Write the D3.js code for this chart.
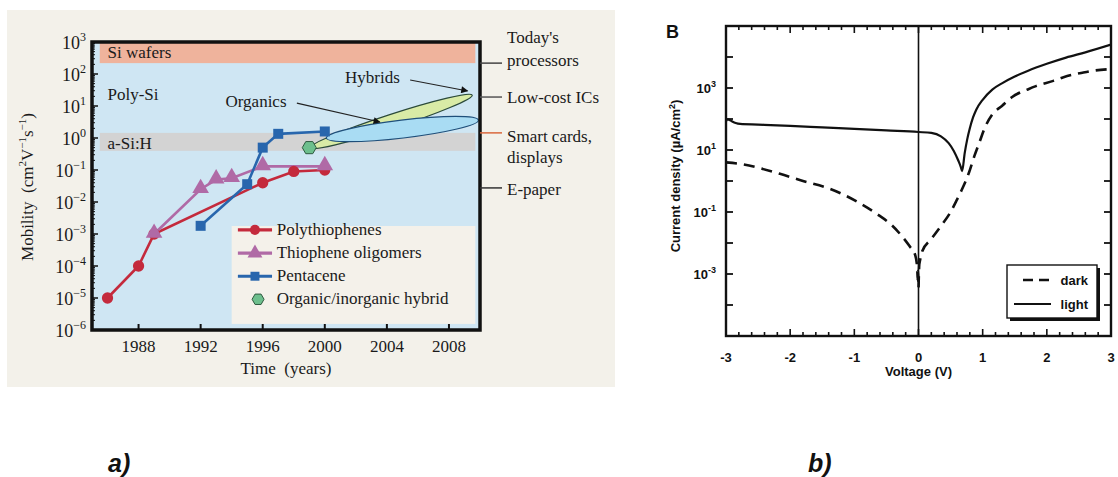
<!DOCTYPE html>
<html><head><meta charset="utf-8">
<script src="https://cdn.jsdelivr.net/npm/d3@7"></script>
<style>body{margin:0;background:#fff} svg{display:block}</style>
</head><body>
<svg id="c" width="1118" height="477"></svg>
<script>
// ---------------- Panel a data ----------------
const yearTicks = [1988, 1992, 1996, 2000, 2004, 2008];
const mobilityExps = [-6, -5, -4, -3, -2, -1, 0, 1, 2, 3];
const polyYears = [1986, 1988, 1989, 1996, 1998, 2000];
const polyMob   = [1e-5, 1e-4, 1e-3, 0.04, 0.09, 0.1];
const oligoYears = [1989, 1992, 1993, 1994, 1996, 2000];
const oligoMob   = [1e-3, 0.025, 0.05, 0.055, 0.13, 0.13];
const pentYears = [1992, 1995, 1996, 1997, 2000];
const pentMob   = [1.8e-3, 0.036, 0.5, 1.35, 1.6];
const hybridYears = [1999];
const hybridMob   = [0.5];
const legendA = ["Polythiophenes", "Thiophene oligomers", "Pentacene", "Organic/inorganic hybrid"];
const appLabels = [["Today's", "processors"], ["Low-cost ICs"], ["Smart cards,", "displays"], ["E-paper"]];
const appLevels = [Math.pow(10, 2.34), Math.pow(10, 1.28), Math.pow(10, 0.16), Math.pow(10, -1.56)];
const bandLabels = ["Si wafers", "Poly-Si", "a-Si:H"];
// ---------------- Panel b data ----------------
const voltTicks = [-3, -2, -1, 0, 1, 2, 3];
const jExps = [-5, -4, -3, -2, -1, 0, 1, 2, 3, 4, 5];
const jLabelExps = [3, 1, -1, -3];
const lightV = [-3, -2.97, -2.93, -2.85, -2.78, -2.5, -2, -1.5, -1, -0.5, 0, 0.2, 0.35, 0.47, 0.55, 0.62, 0.66, 0.68, 0.72, 0.76, 0.8, 0.85, 0.9, 1.0, 1.15, 1.3, 1.5, 1.7, 2.0, 2.3, 2.6, 3];
const lightLogJ = [1.93, 1.99, 1.95, 1.87, 1.84, 1.82, 1.78, 1.73, 1.68, 1.63, 1.58, 1.55, 1.44, 1.22, 0.97, 0.66, 0.45, 0.32, 0.9, 1.35, 1.7, 2.05, 2.3, 2.62, 2.95, 3.15, 3.37, 3.55, 3.78, 3.98, 4.15, 4.4];
const darkV = [-3, -2.78, -2.16, -1.8, -1.41, -0.92, -0.65, -0.42, -0.25, -0.14, -0.05, -0.02, -0.012, -0.006, 0, 0.006, 0.012, 0.02, 0.06, 0.2, 0.35, 0.5, 0.6, 0.68, 0.79, 0.87, 0.95, 1.03, 1.15, 1.3, 1.46, 1.72, 1.83, 2.1, 2.26, 2.57, 2.7, 3];
const darkLogJ = [0.6, 0.55, 0.23, 0.0, -0.23, -0.71, -1.06, -1.42, -1.8, -2.1, -2.4, -2.8, -3.2, -2.9, -3.45, -3.0, -2.7, -2.6, -2.26, -1.87, -1.45, -1.0, -0.6, -0.26, 0.29, 0.8, 1.25, 1.7, 2.15, 2.42, 2.71, 2.97, 3.06, 3.23, 3.35, 3.5, 3.55, 3.61];
const legendB = ["dark", "light"];

const svg = d3.select("#c");
const serif = "'Liberation Serif', 'Times New Roman', serif";
const sans = "'Liberation Sans', Arial, sans-serif";

// ================= Panel a =================
svg.append("rect").attr("x", 7).attr("y", 10).attr("width", 608).attr("height", 377).attr("fill", "#f3f1ea");
const xA = d3.scaleLinear().domain([1985, 2010]).range([92, 480]);
const yA = d3.scaleLog().domain([1e-6, 1e3]).range([330, 42]);
const gA = svg.append("g");
gA.append("rect").attr("x", xA(1985)).attr("y", yA(1e3)).attr("width", xA(2010) - xA(1985))
  .attr("height", yA(1e-6) - yA(1e3)).attr("fill", "#cfe6f3");
// bands
gA.append("rect").attr("x", xA(1985.5)).attr("y", yA(1e3)).attr("width", xA(2009.7) - xA(1985.5))
  .attr("height", yA(Math.pow(10, 2.34)) - yA(1e3)).attr("fill", "#efb39c");
gA.append("rect").attr("x", xA(1985.5)).attr("y", yA(Math.pow(10, 0.16))).attr("width", xA(2009.7) - xA(1985.5))
  .attr("height", yA(Math.pow(10, -0.4)) - yA(Math.pow(10, 0.16))).attr("fill", "#d3d3d3");
const bandPos = [[1986, Math.pow(10, 2.5)], [1986, Math.pow(10, 1.19)], [1986, Math.pow(10, -0.34)]];
bandLabels.forEach((t, i) => gA.append("text").attr("x", xA(bandPos[i][0])).attr("y", yA(bandPos[i][1]))
  .attr("font-family", serif).attr("font-size", 17).attr("fill", "#1a1a1a").text(t));

// legend box
gA.append("rect").attr("x", xA(1994.0)).attr("y", yA(Math.pow(10, -2.75))).attr("width", xA(2009.7) - xA(1994.0))
  .attr("height", yA(Math.pow(10, -5.81)) - yA(Math.pow(10, -2.75))).attr("fill", "#f4f1ea");

// ellipses (annotations in data coordinates)
function ell(y0, m0, y1, m1, half, fill, stroke) {
  const ax = xA(y0), ay = yA(m0), bx = xA(y1), by = yA(m1);
  const cx = (ax + bx) / 2, cy = (ay + by) / 2;
  const len = Math.hypot(bx - ax, by - ay) / 2;
  const ang = Math.atan2(by - ay, bx - ax) * 180 / Math.PI;
  gA.append("ellipse").attr("cx", 0).attr("cy", 0).attr("rx", len).attr("ry", half)
    .attr("transform", `translate(${cx},${cy}) rotate(${ang})`)
    .attr("fill", fill).attr("stroke", stroke).attr("stroke-width", 1.2);
}
ell(1999.05, Math.pow(10, -0.31), 2009.5, Math.pow(10, 1.34), 7, "#d9eba6", "#2b4a3a");
ell(2000.1, Math.pow(10, 0.0), 2009.9, Math.pow(10, 0.56), 9, "#a9dcf3", "#1f4f7a");

// arrows
const defs = svg.append("defs");
defs.append("marker").attr("id", "ah").attr("viewBox", "0 0 10 10").attr("refX", 9).attr("refY", 5)
  .attr("markerWidth", 11).attr("markerHeight", 7).attr("markerUnits", "userSpaceOnUse").attr("orient", "auto")
  .append("path").attr("d", "M0,0L10,5L0,10z").attr("fill", "#111");
function arrow(y0, m0, y1, m1) {
  gA.append("line").attr("x1", xA(y0)).attr("y1", yA(m0)).attr("x2", xA(y1)).attr("y2", yA(m1))
    .attr("stroke", "#222").attr("stroke-width", 1.1).attr("marker-end", "url(#ah)");
}
arrow(2005.5, Math.pow(10, 1.81), 2009.2, Math.pow(10, 1.47));
arrow(1998.2, Math.pow(10, 1.09), 2003.55, Math.pow(10, 0.5));
gA.append("text").attr("x", xA(2001.3)).attr("y", yA(Math.pow(10, 1.72))).attr("font-family", serif)
  .attr("font-size", 17).attr("fill", "#1a1a1a").text("Hybrids");
gA.append("text").attr("x", xA(1993.6)).attr("y", yA(Math.pow(10, 0.97))).attr("font-family", serif)
  .attr("font-size", 17).attr("fill", "#1a1a1a").text("Organics");

// series
const colors = ["#c42a3c", "#b06aa6", "#2866ad"];
const lineA = d3.line().x(d => xA(d[0])).y(d => yA(d[1]));
const sets = [d3.zip(polyYears, polyMob), d3.zip(oligoYears, oligoMob), d3.zip(pentYears, pentMob)];
sets.forEach((s, i) => gA.append("path").attr("d", lineA(s)).attr("fill", "none")
  .attr("stroke", colors[i]).attr("stroke-width", 2.6));
const sym = [d3.symbolCircle, d3.symbolTriangle, d3.symbolSquare];
const symSize = [100, 120, 100];
sets.forEach((s, i) => gA.selectAll(null).data(s).enter().append("path")
  .attr("d", d3.symbol().type(sym[i]).size(symSize[i]))
  .attr("transform", d => `translate(${xA(d[0])},${yA(d[1]) + (i === 1 ? -1 : 0)})`)
  .attr("fill", colors[i]));
const hexPath = r => d3.range(6).map(k => { const a = Math.PI / 3 * k; return [r * Math.cos(a), r * Math.sin(a)]; });
gA.selectAll(null).data(d3.zip(hybridYears, hybridMob)).enter().append("path")
  .attr("d", "M" + hexPath(7).join("L") + "Z")
  .attr("transform", d => `translate(${xA(d[0])},${yA(d[1])})`)
  .attr("fill", "#6dbf8d").attr("stroke", "#2f5a40").attr("stroke-width", 1);

// legend entries
const legY = [Math.pow(10, -2.87), Math.pow(10, -3.6), Math.pow(10, -4.32), Math.pow(10, -5.04)];
legendA.forEach((t, i) => {
  const yy = yA(legY[i]);
  if (i < 3) {
    gA.append("line").attr("x1", xA(1994.4)).attr("x2", xA(1996.6)).attr("y1", yy).attr("y2", yy)
      .attr("stroke", colors[i]).attr("stroke-width", 3.2);
    gA.append("path").attr("d", d3.symbol().type(sym[i]).size(symSize[i] * 0.8))
      .attr("transform", `translate(${xA(1995.5)},${yy})`).attr("fill", colors[i]);
  } else {
    gA.append("path").attr("d", "M" + hexPath(6).join("L") + "Z")
      .attr("transform", `translate(${xA(1995.7)},${yy})`).attr("fill", "#6dbf8d").attr("stroke", "#2f5a40");
  }
  gA.append("text").attr("x", xA(1996.9)).attr("y", yy + 5).attr("font-family", serif).attr("font-size", 17)
    .attr("fill", "#1a1a1a").text(t);
});

// frame and ticks
const [X0, X1] = xA.range(), [Yb, Yt] = yA.range();
mobilityExps.forEach(e => {
  const yy = yA(Math.pow(10, e));
  gA.append("line").attr("x1", X0).attr("x2", X0 + 6).attr("y1", yy).attr("y2", yy).attr("stroke", "#111").attr("stroke-width", 1.5);
  const t = gA.append("text").attr("x", 86).attr("y", yy + 7).attr("text-anchor", "end")
    .attr("font-family", serif).attr("font-size", 18).attr("fill", "#1a1a1a");
  t.append("tspan").text("10");
  t.append("tspan").attr("dy", -8).attr("font-size", 12).text(e < 0 ? "\u2212" + (-e) : String(e));
  if (e < 3) {
    d3.range(2, 10).forEach(k => {
      const ym = yA(k * Math.pow(10, e));
      gA.append("line").attr("x1", X0).attr("x2", X0 + 3).attr("y1", ym).attr("y2", ym).attr("stroke", "#111").attr("stroke-width", 1);
    });
  }
});
yearTicks.forEach(y => {
  gA.append("line").attr("x1", xA(y)).attr("x2", xA(y)).attr("y1", Yb).attr("y2", Yb - 6).attr("stroke", "#111").attr("stroke-width", 2);
  gA.append("text").attr("x", xA(y)).attr("y", 352).attr("text-anchor", "middle").attr("font-family", serif)
    .attr("font-size", 17).attr("fill", "#1a1a1a").text(y);
});
gA.append("rect").attr("x", X0).attr("y", Yt).attr("width", X1 - X0).attr("height", Yb - Yt)
  .attr("fill", "none").attr("stroke", "#111").attr("stroke-width", 3.5);
gA.append("text").attr("x", (X0 + X1) / 2).attr("y", 374).attr("text-anchor", "middle").attr("font-family", serif)
  .attr("font-size", 17).attr("fill", "#1a1a1a").attr("xml:space", "preserve").text("Time  (years)");
const yl = gA.append("text").attr("transform", `translate(33,187) rotate(-90)`).attr("text-anchor", "middle")
  .attr("font-family", serif).attr("font-size", 17).attr("fill", "#1a1a1a");
yl.append("tspan").text("Mobility\u00a0\u00a0(cm");
yl.append("tspan").attr("dy", -7).attr("font-size", 11).text("2");
yl.append("tspan").attr("dy", 7).text("V");
yl.append("tspan").attr("dy", -7).attr("font-size", 11).text("\u22121");
yl.append("tspan").attr("dy", 7).text("s");
yl.append("tspan").attr("dy", -7).attr("font-size", 11).text("\u22121");
yl.append("tspan").attr("dy", 7).text(")");

// application labels
const appColors = ["#444", "#555", "#d9683e", "#333"];
const appOffsets = [[-20, 3], [6], [9, 30], [7]];
appLabels.forEach((lines, i) => {
  const yy = yA(appLevels[i]);
  gA.append("line").attr("x1", X1).attr("x2", X1 + 22).attr("y1", yy).attr("y2", yy)
    .attr("stroke", appColors[i]).attr("stroke-width", 1.5);
  lines.forEach((t, j) => gA.append("text").attr("x", X1 + 27).attr("y", yy + appOffsets[i][j])
    .attr("font-family", serif).attr("font-size", 17).attr("fill", "#1a1a1a").text(t));
});

// ================= Panel b =================
const xB = d3.scaleLinear().domain([-3, 3]).range([726, 1111]);
const yB = d3.scaleLog().domain([1e-5, 1e5]).range([336, 26]);
const gB = svg.append("g");
const [BX0, BX1] = xB.range(), [BYb, BYt] = yB.range();
defs.append("clipPath").attr("id", "clipB").append("rect").attr("x", BX0).attr("y", BYt)
  .attr("width", BX1 - BX0).attr("height", BYb - BYt);
// zero line
gB.append("line").attr("x1", xB(0)).attr("x2", xB(0)).attr("y1", BYt).attr("y2", BYb).attr("stroke", "#111").attr("stroke-width", 1.6);
const lineB = d3.line().x(d => xB(d[0])).y(d => yB(Math.pow(10, d[1]))).curve(d3.curveMonotoneX);
gB.append("path").attr("d", lineB(d3.zip(darkV, darkLogJ))).attr("fill", "none").attr("stroke", "#111")
  .attr("stroke-width", 2.6).attr("stroke-dasharray", "11,7").attr("clip-path", "url(#clipB)");
gB.append("path").attr("d", lineB(d3.zip(lightV, lightLogJ))).attr("fill", "none").attr("stroke", "#111")
  .attr("stroke-width", 2.2).attr("clip-path", "url(#clipB)");
// ticks
jExps.forEach(e => {
  const yy = yB(Math.pow(10, e));
  if (e > -5 && e < 5) {
    gB.append("line").attr("x1", BX0).attr("x2", BX0 + 7).attr("y1", yy).attr("y2", yy).attr("stroke", "#111").attr("stroke-width", 1.8);
    gB.append("line").attr("x1", BX1).attr("x2", BX1 - 7).attr("y1", yy).attr("y2", yy).attr("stroke", "#111").attr("stroke-width", 1.8);
  }
});
jLabelExps.forEach(e => {
  const yy = yB(Math.pow(10, e));
  const t = gB.append("text").attr("x", 716).attr("y", yy + 5).attr("text-anchor", "end")
    .attr("font-family", sans).attr("font-weight", "bold").attr("font-size", 13).attr("fill", "#111");
  t.append("tspan").text("10");
  t.append("tspan").attr("dy", -6).attr("font-size", 9).text(e);
});
d3.range(-3, 3.001, 0.2).forEach(v => {
  const major = Math.abs(v - Math.round(v)) < 1e-6;
  const len = major ? 7 : 4;
  gB.append("line").attr("x1", xB(v)).attr("x2", xB(v)).attr("y1", BYb).attr("y2", BYb - len).attr("stroke", "#111").attr("stroke-width", 1.6);
  gB.append("line").attr("x1", xB(v)).attr("x2", xB(v)).attr("y1", BYt).attr("y2", BYt + len).attr("stroke", "#111").attr("stroke-width", 1.6);
});
voltTicks.forEach(v => gB.append("text").attr("x", xB(v)).attr("y", 362).attr("text-anchor", "middle")
  .attr("font-family", sans).attr("font-weight", "bold").attr("font-size", 13).attr("fill", "#111").text(v));
gB.append("rect").attr("x", BX0).attr("y", BYt).attr("width", BX1 - BX0).attr("height", BYb - BYt)
  .attr("fill", "none").attr("stroke", "#111").attr("stroke-width", 2.4);
gB.append("text").attr("x", (BX0 + BX1) / 2).attr("y", 376).attr("text-anchor", "middle")
  .attr("font-family", sans).attr("font-weight", "bold").attr("font-size", 13).attr("fill", "#111").text("Voltage (V)");
const ylb = gB.append("text").attr("transform", `translate(680,176) rotate(-90)`).attr("text-anchor", "middle")
  .attr("font-family", sans).attr("font-weight", "bold").attr("font-size", 13).attr("fill", "#111");
ylb.append("tspan").text("Current density (\u00b5A/cm");
ylb.append("tspan").attr("dy", -5).attr("font-size", 9).text("2");
ylb.append("tspan").attr("dy", 5).text(")");
gB.append("text").attr("x", 666).attr("y", 38).attr("font-family", sans).attr("font-weight", "bold")
  .attr("font-size", 18).attr("fill", "#111").text("B");
// legend b
gB.append("rect").attr("x", 1010).attr("y", 268).attr("width", 90).attr("height", 53).attr("fill", "#111");
gB.append("rect").attr("x", 1007).attr("y", 265).attr("width", 90).attr("height", 53).attr("fill", "#fff")
  .attr("stroke", "#111").attr("stroke-width", 1.4);
const legBY = [280, 304];
legendB.forEach((t, i) => {
  gB.append("line").attr("x1", i === 0 ? 1023 : 1014).attr("x2", 1051).attr("y1", legBY[i]).attr("y2", legBY[i])
    .attr("stroke", "#111").attr("stroke-width", i === 0 ? 2.6 : 2)
    .attr("stroke-dasharray", i === 0 ? "10,6" : null);
  gB.append("text").attr("x", 1088).attr("y", legBY[i] + 5).attr("text-anchor", "end")
    .attr("font-family", sans).attr("font-weight", "bold").attr("font-size", 13).attr("fill", "#111").text(t);
});

// panel letters
svg.append("text").attr("x", 108).attr("y", 472).attr("font-family", sans).attr("font-weight", "bold")
  .attr("font-style", "italic").attr("font-size", 25).attr("fill", "#111").text("a)");
svg.append("text").attr("x", 808).attr("y", 472).attr("font-family", sans).attr("font-weight", "bold")
  .attr("font-style", "italic").attr("font-size", 25).attr("fill", "#111").text("b)");
</script>
</body></html>
